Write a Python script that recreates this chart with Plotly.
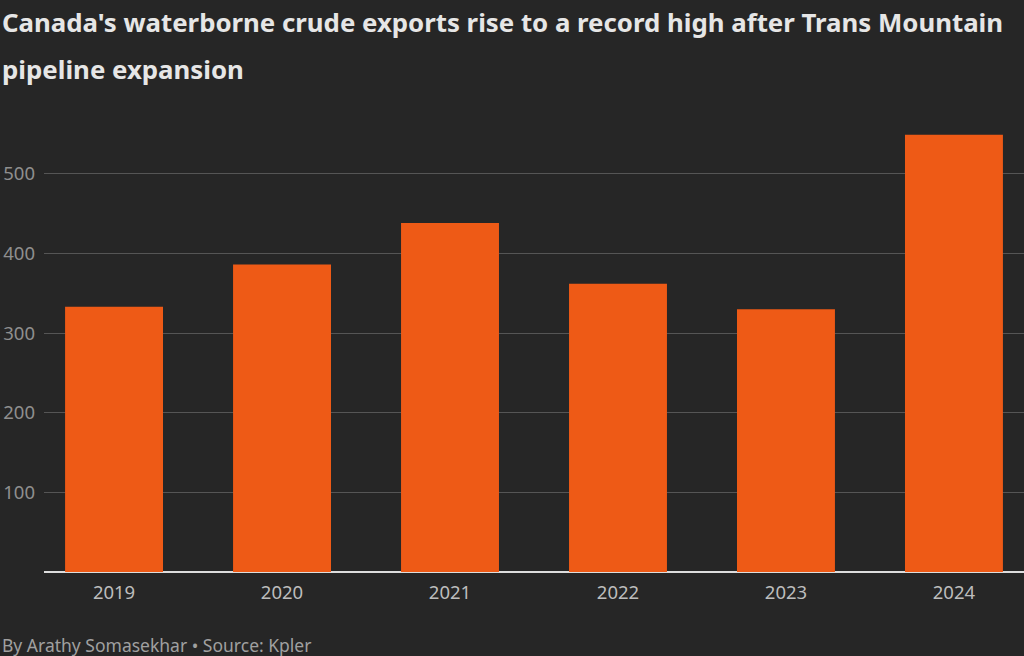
import plotly.graph_objects as go

years = ["2019", "2020", "2021", "2022", "2023", "2024"]
exports = [333, 386, 438, 362, 330, 549]
y_ticks = [100, 200, 300, 400, 500]

BG = "#262626"
BAR = "#ee5a16"
FONT = "Noto Sans"
PLOT_H = 462  # px
ZERO_PX = 572


def py(px):
    """Convert a page pixel y into paper coordinates."""
    return (ZERO_PX - px) / PLOT_H


fig = go.Figure(go.Bar(x=list(range(len(years))), y=exports, marker=dict(color=BAR, line=dict(width=0)),
                       width=0.583, hoverinfo="skip"))

fig.update_layout(
    width=1024, height=656,
    paper_bgcolor=BG, plot_bgcolor=BG,
    margin=dict(l=44, r=0, t=110, b=84),
    showlegend=False,
    font=dict(family=FONT, color="#a0a0a0", size=16),
    xaxis=dict(range=[-0.417, 5.417], tickmode="array", tickvals=list(range(len(years))), ticktext=years,
               showgrid=False, zeroline=False, showline=False, ticks="", ticklabelstandoff=7,
               tickfont=dict(size=18.5, color="#bdbdbd"), fixedrange=True),
    yaxis=dict(range=[0, 580], tickmode="array", tickvals=y_ticks, ticktext=[str(v) for v in y_ticks],
               showgrid=True, gridcolor="#555555", gridwidth=1.3,
               zeroline=True, zerolinecolor="#dddddd", zerolinewidth=1.5,
               showline=False, ticks="", ticklabelstandoff=8,
               tickfont=dict(size=18.5, color="#8f8f8f"), fixedrange=True),
)

title_lines = ["Canada's waterborne crude exports rise to a record high after Trans Mountain",
               "pipeline expansion"]
for line, cy in zip(title_lines, [22, 69]):
    fig.add_annotation(text=line, xref="paper", yref="paper", x=-44 / 980, y=py(cy),
                       xanchor="left", yanchor="middle", align="left", showarrow=False,
                       font=dict(family=FONT, size=25.8, color="#e6e6e6", weight="bold"))

fig.add_annotation(text="By Arathy Somasekhar • Source: Kpler",
                   xref="paper", yref="paper", x=-44 / 980, y=py(645), xanchor="left", yanchor="middle",
                   align="left", showarrow=False,
                   font=dict(family=FONT, size=17.5, color="#a0a0a0"))

fig.write_html("out.html")
